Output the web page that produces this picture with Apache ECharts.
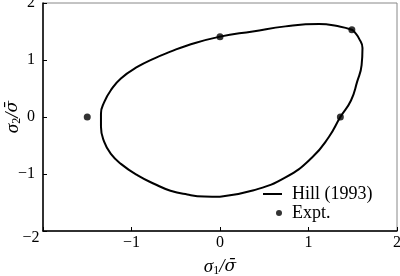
<!DOCTYPE html>
<html><head><meta charset="utf-8">
<script src="https://cdn.jsdelivr.net/npm/echarts@6/dist/echarts.min.js"></script>
<style>html,body{margin:0;padding:0;background:#fff}#c{width:400px;height:276px}</style>
</head><body><div id="c"></div>
<script>
// Hill (1993) yield locus, traced counterclockwise from the bottom
const hillX = [0, 0.37, 0.74, 1.04, 1.23, 1.36, 1.48, 1.55, 1.60, 1.61, 1.57, 1.53, 1.49, 1.31, 1.12, 0.74, 0.37, 0, -0.37, -0.56, -0.74, -0.93, -1.12, -1.233, -1.307, -1.345, -1.345, -1.307, -1.233, -1.12, -0.93, -0.74, -0.56, -0.37, -0.18, 0];
const hillY = [-1.40, -1.29, -1.06, -0.71, -0.35, 0, 0.29, 0.62, 0.91, 1.21, 1.38, 1.47, 1.53, 1.60, 1.63, 1.59, 1.50, 1.41, 1.255, 1.146, 1.03, 0.882, 0.677, 0.471, 0.265, 0.06, -0.17, -0.441, -0.646, -0.822, -1.025, -1.175, -1.293, -1.36, -1.395, -1.40];
const exptX = [0, 1.49, 1.36, -1.50];
const exptY = [1.41, 1.53, 0, 0];
const tickValues = [-2, -1, 0, 1, 2];
const tickLabels = ['\u22122', '\u22121', '0', '1', '2'];
const seriesNames = ['Hill (1993)', 'Expt.'];

const serif = '"Liberation Serif","Times New Roman",serif';
function lab(v) { const i = tickValues.indexOf(Math.round(v)); return i >= 0 ? tickLabels[i] : String(v); }
const nameRich = {
  i: { fontFamily: serif, fontStyle: 'italic', fontSize: 19, color: '#000' },
  b: { fontFamily: '"DejaVu Serif"', fontStyle: 'italic', fontSize: 17, color: '#000' },
  s: { fontFamily: serif, fontStyle: 'normal', fontSize: 12, color: '#000', verticalAlign: 'bottom', padding: [8, 0, 0, 0] }
};
const chart = echarts.init(document.getElementById('c'), null, { renderer: 'canvas' });
const option = {
  animation: false,
  grid: { left: 43, right: 3, top: 3, bottom: 45, show: true, borderColor: '#888', borderWidth: 1,
    containLabel: false, outerBoundsMode: 'none' },
  xAxis: {
    type: 'value', min: -2, max: 2, interval: 1,
    axisLine: { show: true, onZero: false, lineStyle: { color: '#000', width: 1.5 } },
    axisTick: { show: true, inside: true, length: 4, lineStyle: { color: '#000', width: 1 } },
    splitLine: { show: false },
    axisLabel: {
      margin: 4, color: '#000', fontFamily: serif, fontSize: 16, hideOverlap: false,
      formatter: v => v === -2 ? '{m|' + lab(v) + '}' : lab(v),
      rich: { m: { fontFamily: serif, fontSize: 16, color: '#000', padding: [0, 24, 0, 0], lineHeight: 6 } }
    },
    name: '{i|\u03C3}{s|1}{i|/}{b|\u03C3\u0304}', nameLocation: 'middle', nameGap: 26, nameMoveOverlap: false,
    nameTextStyle: { rich: nameRich }
  },
  yAxis: {
    type: 'value', min: -2, max: 2, interval: 1,
    axisLine: { show: true, onZero: false, lineStyle: { color: '#000', width: 1.5 } },
    axisTick: { show: true, inside: true, length: 4, lineStyle: { color: '#000', width: 1 } },
    splitLine: { show: false },
    axisLabel: {
      margin: 8, color: '#000', fontFamily: serif, fontSize: 16, hideOverlap: false,
      formatter: v => v === -2 ? '' : lab(v)
    },
    name: '{i|\u03C3}{s|2}{i|/}{b|\u03C3\u0304}', nameLocation: 'middle', nameGap: 20, nameMoveOverlap: false,
    nameTextStyle: { rich: nameRich }
  },
  legend: [
    { data: [{ name: seriesNames[0], icon: 'rect' }], left: 263, top: 185, padding: 0, itemWidth: 19, itemHeight: 2,
      selectedMode: false, textStyle: { fontFamily: serif, fontSize: 18, color: '#000', padding: [0, 0, 0, 5] } },
    { data: [{ name: seriesNames[1], icon: 'circle' }], left: 276, top: 204, padding: 0, itemWidth: 6, itemHeight: 6,
      selectedMode: false, textStyle: { fontFamily: serif, fontSize: 18, color: '#000', padding: [0, 0, 0, 5] } }
  ],
  series: [
    { type: 'line', name: seriesNames[0], data: hillX.map((x, i) => [x, hillY[i]]), smooth: 0.5,
      symbol: 'none', showSymbol: false, lineStyle: { color: '#000', width: 2 }, itemStyle: { color: '#000' } },
    { type: 'scatter', name: seriesNames[1], data: exptX.map((x, i) => [x, exptY[i]]), symbolSize: 7,
      itemStyle: { color: '#000' } }
  ]
};
chart.setOption(option);
</script></body></html>
